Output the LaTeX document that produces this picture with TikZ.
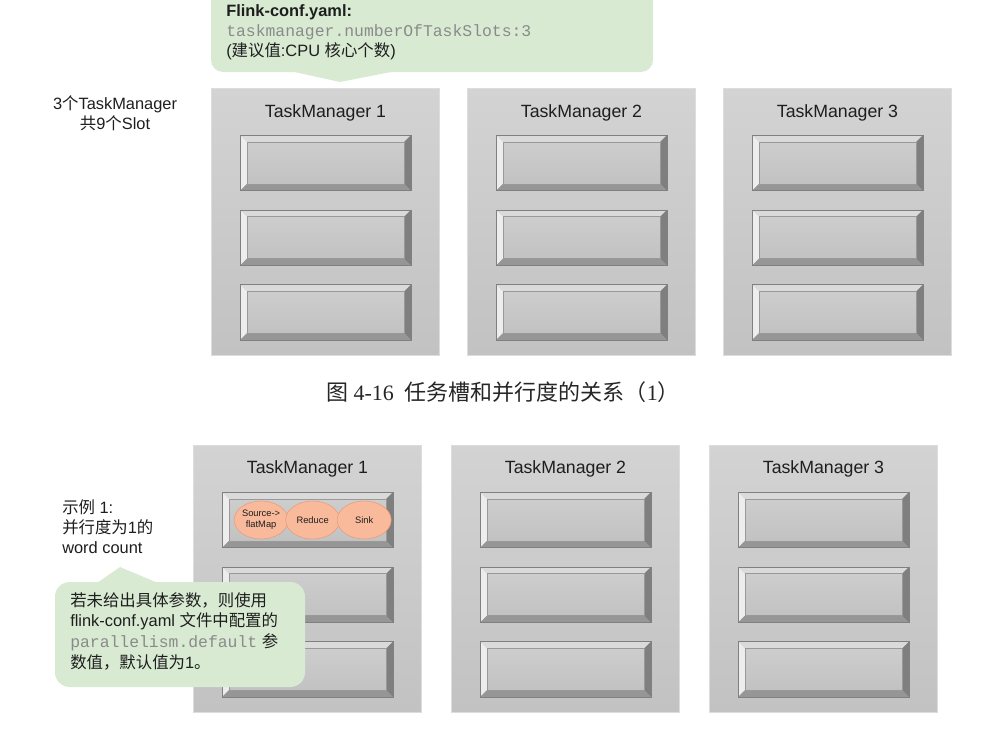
\documentclass[tikz,border=0pt]{standalone}
\usepackage{fontspec}
\setmainfont{Liberation Sans}
\setmonofont{Liberation Mono}
\newfontfamily\cjk{Noto Sans CJK SC}
\newfontfamily\capserif{Liberation Serif}
\usepackage{xcolor}
\usepackage{tikz}
\usetikzlibrary{positioning,shapes.geometric}

\definecolor{bubblegreen}{HTML}{D9EAD3}
\definecolor{tmtop}{HTML}{D3D3D3}
\definecolor{tmbot}{HTML}{C2C2C2}
\definecolor{tmline}{HTML}{DDDDDD}
\definecolor{facetop}{HTML}{CFCFCF}
\definecolor{facebot}{HTML}{C0C0C0}
\definecolor{bevlight}{HTML}{EDEDED}
\definecolor{bevtop}{HTML}{DADADA}
\definecolor{bevdark}{HTML}{7F7F7F}
\definecolor{bevbot}{HTML}{969696}
\definecolor{opfill}{HTML}{F9BA9C}
\definecolor{opline}{HTML}{E89A77}
\definecolor{monogray}{HTML}{8A8A8A}
\definecolor{textdark}{HTML}{1E1E1E}

\tikzset{
	bevelled/.style={path picture={
		\def\bb{path picture bounding box}
		\fill[bevtop] (\bb.north west) -- (\bb.north east) -- ([shift={(-5pt,-5pt)}]\bb.north east) -- ([shift={(5pt,-5pt)}]\bb.north west) -- cycle;
		\fill[bevlight] (\bb.north west) -- ([shift={(5pt,-5pt)}]\bb.north west) -- ([shift={(5pt,5pt)}]\bb.south west) -- (\bb.south west) -- cycle;
		\fill[bevdark] (\bb.north east) -- ([shift={(-5pt,-5pt)}]\bb.north east) -- ([shift={(-5pt,5pt)}]\bb.south east) -- (\bb.south east) -- cycle;
		\fill[bevbot] (\bb.south west) -- ([shift={(5pt,5pt)}]\bb.south west) -- ([shift={(-5pt,5pt)}]\bb.south east) -- (\bb.south east) -- cycle;
		\draw[black!40, line width=0.4pt] ([shift={(5pt,-5pt)}]\bb.north west) rectangle ([shift={(-5pt,5pt)}]\bb.south east);
	}},
}

\begin{document}
\begin{tikzpicture}[x=0.75pt, y=-0.75pt,
		tmbox/.style={rectangle, draw=tmline, line width=0.75pt, top color=tmtop, bottom color=tmbot, minimum width=171pt, minimum height=200.25pt, inner sep=0pt, anchor=north west},
		tmtitle/.style={font=\fontsize{13.3}{15}\selectfont, text=textdark},
		slotbox/.style={rectangle, draw=black!50, line width=0.5pt, top color=facetop, bottom color=facebot, minimum width=128pt, minimum height=41.5pt, inner sep=0pt, bevelled},
		opnode/.style={ellipse, draw=opline, fill=opfill, minimum width=40.5pt, minimum height=28.5pt, inner sep=0pt, align=center, font=\fontsize{7}{8}\selectfont, text=textdark},
		note/.style={font=\fontsize{12.3}{15}\selectfont, text=textdark, inner sep=0pt},
		bubble/.style={fill=bubblegreen},
	]
	\useasboundingbox (0,0) rectangle (1004,736);

	% top row: 3 TaskManagers with 3 slots each
	\foreach \n/\x in {1/211, 2/467, 3/723} {
		\node[tmbox] (tmA\n) at (\x,88) {};
		\node[tmtitle] (titleA\n) at ([yshift=-18.5pt]tmA\n.north) {TaskManager \n};
		\node[slotbox, below=35.25pt of tmA\n.north] (slotA\n-1) {};
		\node[slotbox, below=14pt of slotA\n-1] (slotA\n-2) {};
		\node[slotbox, below=14pt of slotA\n-2] (slotA\n-3) {};
	}

	% config callout
	\fill[bubble, rounded corners=9pt] (211,-20) rectangle (653,72);
	\fill[bubble] (290,71) -- (340,82) -- (396,71) -- cycle;
	\node[note, align=left, anchor=west] (conftext) at (226,32)
		{\textbf{Flink-conf.yaml:}\\{\ttfamily\color{monogray}taskmanager.numberOfTaskSlots:3}\\({\cjk 建议值}:CPU {\cjk 核心个数})};

	\node[note, align=center] (tmcount) at (115,113) {3{\cjk 个}TaskManager\\{\cjk 共}9{\cjk 个}Slot};

	% caption
	\node[font=\capserif\fontsize{16.5}{19}\selectfont, text=black!85] (caption) at (503,392)
		{{\cjk 图} 4-16\ \ {\cjk 任务槽和并行度的关系（}1{\cjk ）}};

	% bottom row
	\foreach \n/\x in {1/193, 2/451, 3/709} {
		\node[tmbox] (tmB\n) at (\x,445) {};
		\node[tmtitle] (titleB\n) at ([yshift=-18pt]tmB\n.north) {TaskManager \n};
		\node[slotbox, below=35.25pt of tmB\n.north] (slotB\n-1) {};
		\node[slotbox, below=14pt of slotB\n-1] (slotB\n-2) {};
		\node[slotbox, below=14pt of slotB\n-2] (slotB\n-3) {};
	}

	% operators in the first slot
	\node[opnode, right=9pt of slotB1-1.west] (source) {Source->\\flatMap};
	\node[opnode, right=-2.25pt of source] (reduce) {Reduce};
	\node[opnode, right=-2.25pt of reduce] (sink) {Sink};

	\node[note, align=left, anchor=west] (example) at (62,527) {{\cjk 示例} 1:\\{\cjk 并行度为}1{\cjk 的}\\word count};

	% default parallelism callout
	\fill[bubble, rounded corners=11pt] (55,582) rectangle (305,687);
	\fill[bubble] (97,583) -- (120,567) -- (158,583) -- cycle;
	\node[note, align=left, anchor=west, font=\fontsize{12.3}{15.5}\selectfont] (defaulttext) at (70,631)
		{{\cjk 若未给出具体参数，则使用}\\flink-conf.yaml {\cjk 文件中配置的}\\{\ttfamily\color{monogray}parallelism.default} {\cjk 参}\\{\cjk 数值，默认值为}1{\cjk 。}};

\end{tikzpicture}
\end{document}
